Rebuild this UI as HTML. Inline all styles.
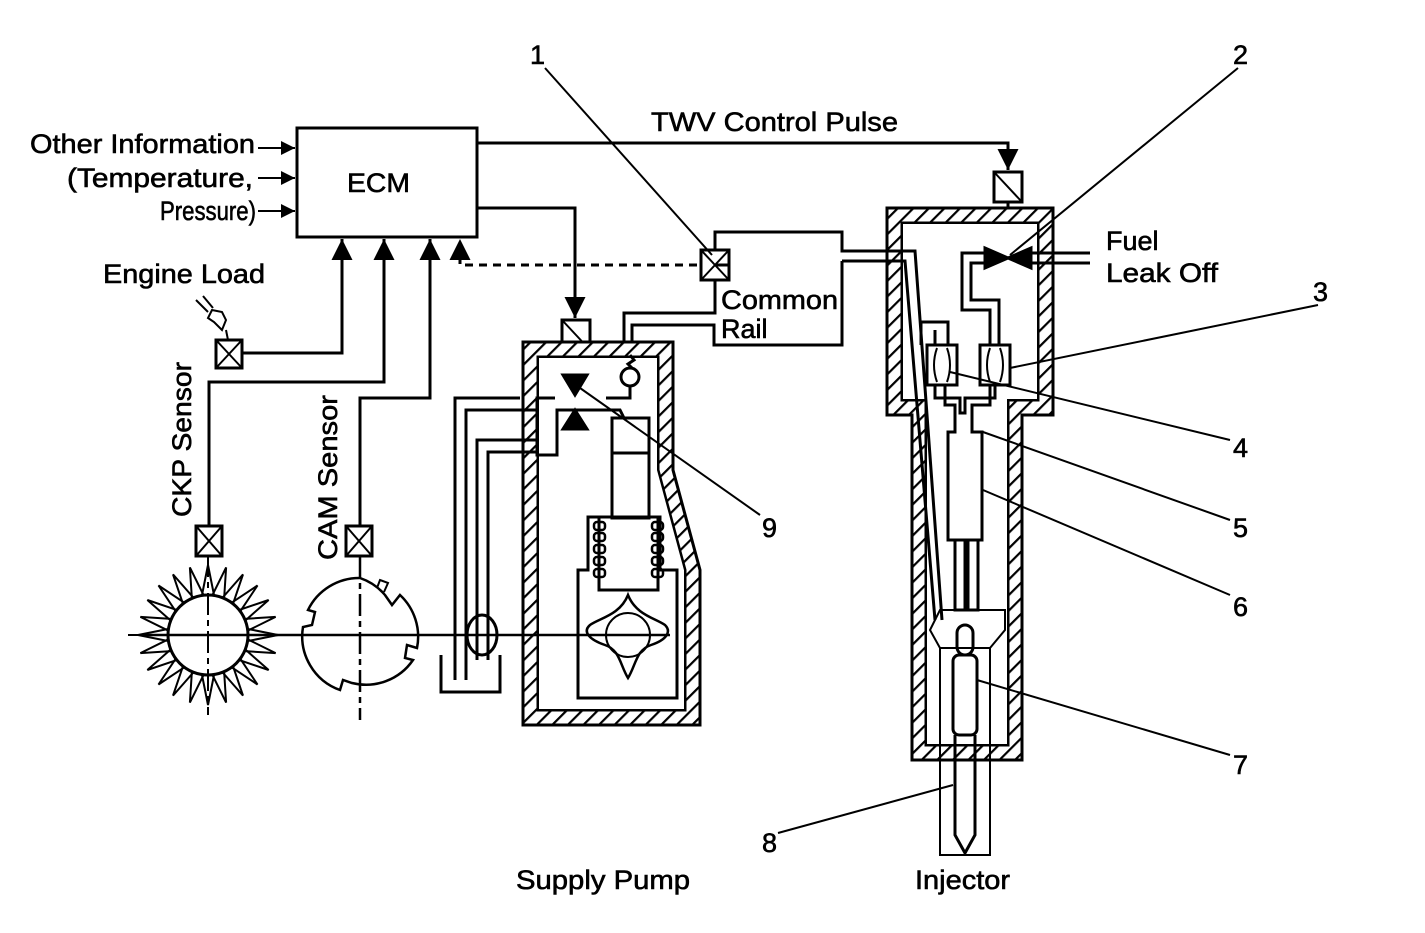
<!DOCTYPE html>
<html><head><meta charset="utf-8"><style>
html,body{margin:0;padding:0;background:#fff;}
svg{display:block}
text{font-family:"Liberation Sans",Arial,sans-serif;fill:#000;stroke:#000;stroke-width:0.6}
</style></head><body>
<svg width="1425" height="933" viewBox="0 0 1425 933" xmlns="http://www.w3.org/2000/svg">
<defs>
<pattern id="h" width="11" height="11" patternUnits="userSpaceOnUse" patternTransform="rotate(45)">
<rect width="11" height="11" fill="#fff"/><rect x="0" y="0" width="2.2" height="11" fill="#000"/>
</pattern>
<marker id="a" viewBox="0 0 10 10" refX="10" refY="5" markerWidth="7" markerHeight="7" orient="auto"><path d="M0,0 L10,5 L0,10z" fill="#000"/></marker>
</defs>
<g fill="none" stroke="#000" stroke-width="3">
<rect x="297" y="128" width="180" height="109"/>
<line x1="258" y1="148" x2="295" y2="148" stroke-width="2" marker-end="url(#a)"/>
<line x1="258" y1="178" x2="295" y2="178" stroke-width="2" marker-end="url(#a)"/>
<line x1="258" y1="211" x2="295" y2="211" stroke-width="2" marker-end="url(#a)"/>
<polyline points="477,143 1008,143 1008,170" marker-end="url(#a)"/>
<rect x="994" y="172" width="28" height="30"/><line x1="994" y1="172" x2="1022" y2="202" stroke-width="2"/>
<line x1="1008" y1="202" x2="1008" y2="255"/>
<polyline points="477,208 575,208 575,318" marker-end="url(#a)"/>
<rect x="562" y="320" width="28" height="30"/><line x1="562" y1="320" x2="590" y2="350" stroke-width="2"/>
<line x1="575" y1="350" x2="575" y2="380"/>
<polyline points="242,353 342,353 342,239" marker-end="url(#a)"/>
<polyline points="209,525 209,382 384,382 384,239" marker-end="url(#a)"/>
<polyline points="360,525 360,398 430,398 430,239" marker-end="url(#a)"/>
<polyline points="697,265 460,265 460,239" stroke-dasharray="8,6" marker-end="url(#a)"/>
<rect x="216" y="340" width="26" height="28"/><path d="M216,340 L242,368 M242,340 L216,368" stroke-width="2"/>
<rect x="196" y="526" width="26" height="30"/><path d="M196,526 L222,556 M222,526 L196,556" stroke-width="2"/>
<rect x="346" y="526" width="26" height="30"/><path d="M346,526 L372,556 M372,526 L346,556" stroke-width="2"/>
<rect x="701" y="250" width="28" height="30"/><path d="M701,250 L729,280 M729,250 L701,280" stroke-width="2"/>
<path d="M222,330 L214,322 L208,318 L212,310 L222,312 L226,320z" stroke-width="2"/>
<path d="M208,312 L196,300 M213,308 L203,296" stroke-width="2"/>
<line x1="226" y1="330" x2="228" y2="340" stroke-width="2"/>
<polyline points="715,250 715,232 842,232 842,251 915,251 942,620" />
<polyline points="715,280 715,313 624,313 624,345" />
<polyline points="842,261 905,261 935,620" />
<polyline points="842,261 842,345 714,345 714,325 632,325 632,348" />
<line x1="729" y1="265" x2="715" y2="265"/>
<path d="M523,342 L673,342 L673,470 L700,570 L700,725 L523,725z M538,357 L658,357 L658,470 L685,570 L685,710 L538,710z" fill="url(#h)" fill-rule="evenodd"/>
<path d="M538,357 L658,357 L658,470 L685,570 L685,710 L538,710z" fill="#fff" stroke-width="2"/>
<path d="M630,355 L634,360 L628,364 L632,368"/>
<circle cx="630" cy="377" r="9"/>
<polyline points="630,386 630,398 606,398"/>
<polyline points="555,398 537,398 537,455 557,455 557,410 620,410 624,418 649,418 649,490"/>
<polyline points="537,410 520,410"/>
<path d="M563,375 L587,375 L575,395z" fill="#000"/>
<path d="M563,429 L587,429 L575,410z" fill="#000"/>
<rect x="612" y="418" width="37" height="100"/>
<line x1="612" y1="453" x2="649" y2="453"/>
<polyline points="578,598 578,570 588,570 588,517 660,517 660,570 677,570 677,698 578,698 578,598"/>
<polyline points="599,517 599,590 658,590 658,517"/>
<g stroke-width="2.5"><rect x="594" y="522" width="11" height="8" rx="3"/><rect x="594" y="533" width="11" height="8" rx="3"/><rect x="594" y="545" width="11" height="8" rx="3"/><rect x="594" y="557" width="11" height="8" rx="3"/><rect x="594" y="569" width="11" height="8" rx="3"/>
<rect x="652" y="522" width="11" height="8" rx="3"/><rect x="652" y="533" width="11" height="8" rx="3"/><rect x="652" y="545" width="11" height="8" rx="3"/><rect x="652" y="557" width="11" height="8" rx="3"/><rect x="652" y="569" width="11" height="8" rx="3"/></g>
<path d="M628,595 C620,615 600,618 590,625 C582,632 590,640 605,645 C620,650 620,665 628,678 C636,665 636,650 651,645 C666,640 672,632 665,625 C655,618 636,615 628,595z" stroke-width="2.5"/>
<circle cx="628" cy="635" r="22" stroke-width="2"/>
<polyline points="455,680 455,398 520,398" />
<polyline points="466,680 466,410 520,410"/>
<polyline points="477,660 477,440 537,440"/>
<polyline points="488,660 488,452 537,452"/>
<ellipse cx="482" cy="635" rx="15" ry="20"/>
<polyline points="441,655 441,692 500,692 500,655"/>
<line x1="140" y1="635" x2="670" y2="635" stroke-width="2.5"/>
<circle cx="208" cy="635" r="40"/>
<path d="M208,555 L208,715 M128,635 L288,635" stroke-dasharray="22,5,6,5" stroke-width="2"/>
<path id="sp" d="M202,595 L208,565 L214,595" stroke-width="2"/>
<g stroke-width="2">
<use href="#sp" transform="rotate(15 208 635)"/><use href="#sp" transform="rotate(30 208 635)"/><use href="#sp" transform="rotate(45 208 635)"/><use href="#sp" transform="rotate(60 208 635)"/><use href="#sp" transform="rotate(75 208 635)"/><use href="#sp" transform="rotate(90 208 635)"/><use href="#sp" transform="rotate(105 208 635)"/><use href="#sp" transform="rotate(120 208 635)"/><use href="#sp" transform="rotate(135 208 635)"/><use href="#sp" transform="rotate(150 208 635)"/><use href="#sp" transform="rotate(165 208 635)"/><use href="#sp" transform="rotate(180 208 635)"/><use href="#sp" transform="rotate(195 208 635)"/><use href="#sp" transform="rotate(210 208 635)"/><use href="#sp" transform="rotate(225 208 635)"/><use href="#sp" transform="rotate(240 208 635)"/><use href="#sp" transform="rotate(255 208 635)"/><use href="#sp" transform="rotate(270 208 635)"/><use href="#sp" transform="rotate(285 208 635)"/><use href="#sp" transform="rotate(300 208 635)"/><use href="#sp" transform="rotate(315 208 635)"/><use href="#sp" transform="rotate(330 208 635)"/><use href="#sp" transform="rotate(345 208 635)"/></g>
<path d="M360,578 A57,57 0 0 0 308,610 L315,612 L312,625 L303,627 A57,57 0 0 0 340,690 L343,680 L352,683 A57,57 0 0 0 413,660 L405,658 L407,645 L417,648 A57,57 0 0 0 400,595 L392,605 L385,595 A57,57 0 0 0 360,578" stroke-width="2.5"/>
<path d="M377,588 L380,580 L388,583 L384,592" stroke-width="2"/>
<path d="M360,556 L360,720" stroke-dasharray="22,5,6,5" stroke-width="2.5"/>
<path d="M887,208 L1053,208 L1053,415 L1022,415 L1022,760 L912,760 L912,415 L887,415z M902,223 L1038,223 L1038,400 L1008,400 L1008,745 L926,745 L926,400 L902,400z" fill="url(#h)" fill-rule="evenodd"/>
<path d="M902,223 L1038,223 L1038,400 L1008,400 L1008,745 L926,745 L926,400 L902,400z" fill="#fff" stroke-width="2"/>
<polyline points="842,251 915,251 942,620"/>
<polyline points="842,261 905,261 935,620"/>
<path d="M985,248 L1008,258 L985,268z" fill="#000"/>
<path d="M1031,248 L1008,258 L1031,268z" fill="#000"/>
<line x1="1031" y1="253" x2="1090" y2="253"/><line x1="1031" y1="263" x2="1090" y2="263"/>
<polyline points="985,253 962,253 962,310 990,310 990,345"/>
<polyline points="985,263 971,263 971,300 999,300 999,345"/>
<polyline points="921,345 921,322 948,322 948,345"/>
<polyline points="935,345 935,330"/>
<rect x="927" y="345" width="30" height="40"/>
<rect x="980" y="345" width="30" height="40"/>
<path d="M937,348 Q931,365 937,382 M947,348 Q953,365 947,382 M990,348 Q984,365 990,382 M1000,348 Q1006,365 1000,382" stroke-width="2"/>
<polyline points="935,385 935,398 960,398 960,413 965,413 965,398 995,398 995,385"/>
<polyline points="945,385 945,405 955,405 955,432 948,432 948,540 982,540 982,432 972,432 972,405 990,405 990,385"/>
<rect x="955" y="540" width="10" height="70"/><rect x="968" y="540" width="10" height="70"/>
<path d="M940,610 L1005,610 L1005,630 L990,648 L940,648 L930,630z" stroke-width="2"/>
<rect x="957" y="625" width="16" height="30" rx="8"/>
<rect x="953" y="655" width="24" height="80" rx="6"/>
<polyline points="940,648 940,855 990,855 990,648" stroke-width="2"/>
<path d="M955,735 L955,835 L965,853 L975,835 L975,735"/>
<g stroke-width="2">
<line x1="545" y1="68" x2="712" y2="255"/>
<line x1="1238" y1="68" x2="1010" y2="255"/>
<line x1="1318" y1="305" x2="1010" y2="368"/>
<line x1="1230" y1="440" x2="950" y2="372"/>
<line x1="1230" y1="520" x2="983" y2="432"/>
<line x1="1230" y1="595" x2="983" y2="490"/>
<line x1="1230" y1="755" x2="977" y2="680"/>
<line x1="778" y1="833" x2="953" y2="785"/>
<line x1="760" y1="515" x2="580" y2="388"/>
</g>
</g>
<g font-size="27">
<text x="30" y="153" textLength="225" lengthAdjust="spacingAndGlyphs">Other Information</text>
<text x="67" y="187" textLength="186" lengthAdjust="spacingAndGlyphs">(Temperature,</text>
<text x="160" y="220" textLength="96" lengthAdjust="spacingAndGlyphs">Pressure)</text>
<text x="347" y="192" textLength="63" lengthAdjust="spacingAndGlyphs">ECM</text>
<text x="651" y="131" textLength="247" lengthAdjust="spacingAndGlyphs">TWV Control Pulse</text>
<text x="103" y="283" textLength="162" lengthAdjust="spacingAndGlyphs">Engine Load</text>
<text x="721" y="309" textLength="117" lengthAdjust="spacingAndGlyphs">Common</text>
<text x="721" y="338">Rail</text>
<text x="1106" y="250">Fuel</text>
<text x="1106" y="282" textLength="112" lengthAdjust="spacingAndGlyphs">Leak Off</text>
<text x="516" y="889" textLength="174" lengthAdjust="spacingAndGlyphs">Supply Pump</text>
<text x="915" y="889" textLength="95" lengthAdjust="spacingAndGlyphs">Injector</text>
<text transform="translate(191,517) rotate(-90)" textLength="155" lengthAdjust="spacingAndGlyphs">CKP Sensor</text>
<text transform="translate(337,560) rotate(-90)" textLength="165" lengthAdjust="spacingAndGlyphs">CAM Sensor</text>
<text x="530" y="64">1</text><text x="1233" y="64">2</text><text x="1313" y="301">3</text>
<text x="1233" y="457">4</text><text x="1233" y="537">5</text><text x="1233" y="616">6</text>
<text x="1233" y="774">7</text><text x="762" y="852">8</text><text x="762" y="537">9</text>
</g>
</svg>
</body></html>
